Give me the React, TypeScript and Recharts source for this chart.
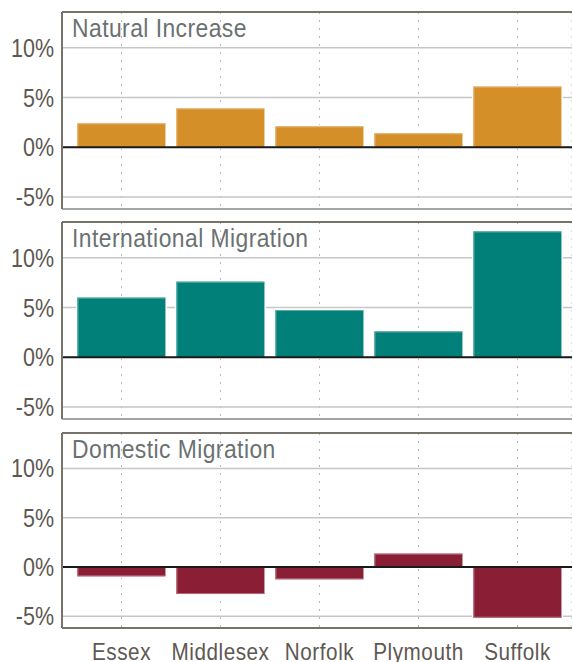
import React from "react";
import {
  BarChart,
  Bar,
  XAxis,
  YAxis,
  CartesianGrid,
  ReferenceLine,
} from "recharts";

const categories = ["Essex", "Middlesex", "Norfolk", "Plymouth", "Suffolk"];
const naturalIncrease = [2.4, 3.9, 2.1, 1.4, 6.1];
const internationalMigration = [6.0, 7.6, 4.75, 2.6, 12.65];
const domesticMigration = [-0.95, -2.75, -1.25, 1.35, -5.15];
const yTicks = [-5, 0, 5, 10];
const yDomain: [number, number] = [-6.2, 13.6];

const FONT = '"Liberation Sans", Arial, sans-serif';
const TICK_COLOR = "#5e5852";

// condensed look: plain sans squeezed sideways
const YTick = (props: any) => {
  const { x, y, payload } = props;
  return (
    <text
      transform={`translate(${x},${y}) scale(0.86,1)`}
      textAnchor="end"
      dy="0.36em"
      fill={TICK_COLOR}
      fontFamily={FONT}
      fontSize={25}
    >
      {`${payload.value}%`}
    </text>
  );
};

const XTick = (props: any) => {
  const { x, y, payload } = props;
  return (
    <text
      transform={`translate(${x},${y}) scale(0.9,1)`}
      textAnchor="middle"
      dy="0.71em"
      fill={TICK_COLOR}
      fontFamily={FONT}
      fontSize={23}
      letterSpacing={0.6}
    >
      {payload.value}
    </text>
  );
};

const BarShape = (props: any) => {
  const { x, y, width, height, fill, edge, value } = props;
  const top = height < 0 ? y + height : y;
  const h = Math.abs(height);
  if (!h) return null;
  const neg = value < 0;
  return (
    <g>
      <rect x={x - 1.5} y={top - 1.5} width={width + 3} height={h + 3} fill="#fff" />
      <rect x={x} y={top} width={width} height={h} fill={fill} />
      <line x1={x + 0.5} y1={top} x2={x + 0.5} y2={top + h} stroke={edge} strokeWidth={1} />
      <line
        x1={x}
        x2={x + width}
        y1={neg ? top + h - 0.5 : top + 0.5}
        y2={neg ? top + h - 0.5 : top + 0.5}
        stroke={edge}
        strokeWidth={1}
      />
    </g>
  );
};

interface PanelProps {
  title: string;
  values: number[];
  color: string;
  edge: string;
  top: number;
  height: number;
  bottom: number;
  showX?: boolean;
}

function Panel({ title, values, color, edge, top, height, bottom, showX }: PanelProps) {
  const data = categories.map((name, i) => ({ name, value: values[i] }));
  return (
    <div style={{ position: "absolute", left: 0, top, width: 572, height }}>
      <BarChart
        width={572}
        height={height}
        data={data}
        margin={{ top: 12, right: 0, bottom, left: 0 }}
        barCategoryGap="5.5%"
      >
        <CartesianGrid
          horizontal={false}
          stroke="#b9b9b9"
          strokeDasharray="2 6"
        />
        <CartesianGrid vertical={false} stroke="#c6c6c6" strokeWidth={1.5} />
        <XAxis
          dataKey="name"
          hide={!showX}
          height={33}
          interval={0}
          padding={{ left: 10, right: 5 }}
          tickLine={false}
          tickMargin={10}
          axisLine={{ stroke: "#78726c", strokeWidth: 2 }}
          tick={<XTick />}
        />
        <YAxis
          type="number"
          domain={yDomain}
          ticks={yTicks}
          interval={0}
          allowDataOverflow
          width={62}
          tickLine={false}
          axisLine={{ stroke: "#78726c", strokeWidth: 2 }}
          tick={<YTick />}
        />
        <ReferenceLine y={yDomain[1]} stroke="#78726c" strokeWidth={2} />
        {!showX && <ReferenceLine y={yDomain[0]} stroke="#a5a5a5" strokeWidth={2} />}
        <Bar
          dataKey="value"
          fill={color}
          isAnimationActive={false}
          shape={(p: any) => <BarShape {...p} edge={edge} />}
        />
        <ReferenceLine y={0} stroke="#1a1a1a" strokeWidth={2} />
      </BarChart>
      <div
        style={{
          position: "absolute",
          left: 72,
          top: 15,
          fontFamily: FONT,
          fontSize: 26,
          lineHeight: "26px",
          letterSpacing: 0.5,
          color: "#6b7171",
          whiteSpace: "nowrap",
          transform: "scaleX(0.88)",
          transformOrigin: "left center",
        }}
      >
        {title}
      </div>
    </div>
  );
}

export default function App() {
  return (
    <div
      style={{
        position: "absolute",
        left: 0,
        top: 0,
        width: 572,
        height: 662,
        background: "#fff",
        overflow: "hidden",
      }}
    >
      <Panel
        title="Natural Increase"
        values={naturalIncrease}
        color="#d48f29"
        edge="#e4b06a"
        top={0}
        height={218}
        bottom={9}
      />
      <Panel
        title="International Migration"
        values={internationalMigration}
        color="#008078"
        edge="#5fada7"
        top={210}
        height={218}
        bottom={9}
      />
      <Panel
        title="Domestic Migration"
        values={domesticMigration}
        color="#891e35"
        edge="#b56c7c"
        top={421}
        height={250}
        bottom={10}
        showX
      />
    </div>
  );
}
